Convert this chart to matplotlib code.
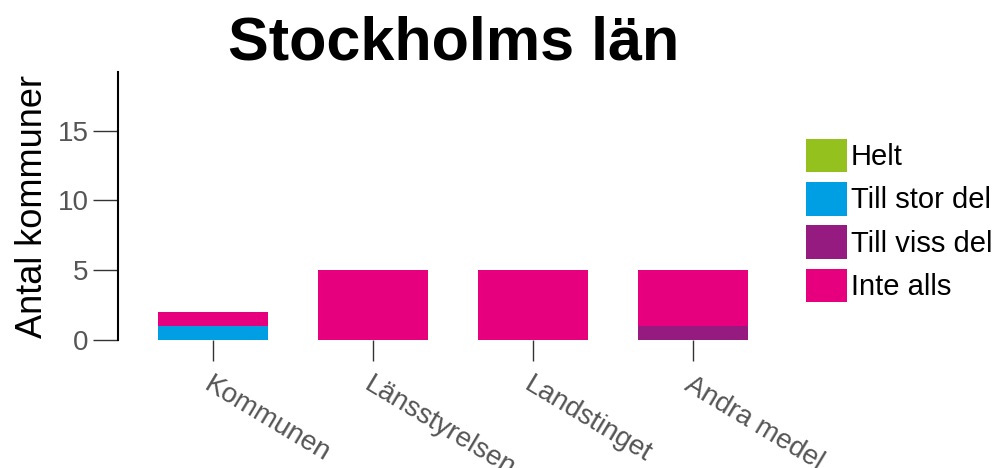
import matplotlib.pyplot as plt
import numpy as np

plt.rcParams['font.family'] = ['Liberation Sans', 'DejaVu Sans']

categories = ['Kommunen', 'Länsstyrelsen', 'Landstinget', 'Andra medel']
series = ['Helt', 'Till stor del', 'Till viss del', 'Inte alls']
helt = [0, 0, 0, 0]
till_stor_del = [1, 0, 0, 0]
till_viss_del = [0, 0, 0, 1]
inte_alls = [1, 5, 5, 4]
colors = ['#95c11f', '#009fe3', '#951b81', '#e6007e']

fig = plt.figure(figsize=(9.97, 4.68), dpi=100)
ax = fig.add_axes([118 / 997, 1 - 340 / 468, (773 - 118) / 997, (340 - 72) / 468])

x = np.arange(len(categories))
bottom = np.zeros(len(categories))
handles = []
for name, vals, col in zip(series, [helt, till_stor_del, till_viss_del, inte_alls], colors):
    b = ax.bar(x, vals, width=0.69, bottom=bottom, color=col, label=name)
    handles.append(b)
    bottom += np.array(vals)

ax.set_xlim(-0.594, 3.5)
ax.set_ylim(0, 19.2)
ax.set_yticks([0, 5, 10, 15])
ax.set_xticks(x)
ax.set_xticklabels(categories, rotation=-31, ha='left', va='top',
                   rotation_mode='anchor', fontsize=20, color='#555555')
ax.tick_params(axis='y', labelsize=20, labelcolor='#555555', length=18,
               width=1, color='#333333', pad=3)
ax.tick_params(axis='x', length=15, width=1, color='#333333', pad=8)

for s in ['top', 'right', 'bottom']:
    ax.spines[s].set_visible(False)
ax.spines['left'].set_linewidth(1.5)

ax.set_ylabel('Antal kommuner', fontsize=26, labelpad=6)

fig.text(0.455, 0.905, 'Stockholms län', fontsize=44, fontweight='bold',
         ha='center', va='center')

ax.legend(handles=handles, loc='upper left', bbox_to_anchor=(1.033, 0.795),
          frameon=False, fontsize=21, handlelength=1.38, handleheight=1.4,
          handletextpad=0.15, labelspacing=0.33, borderaxespad=0)

fig.savefig('out.png', dpi=100)
